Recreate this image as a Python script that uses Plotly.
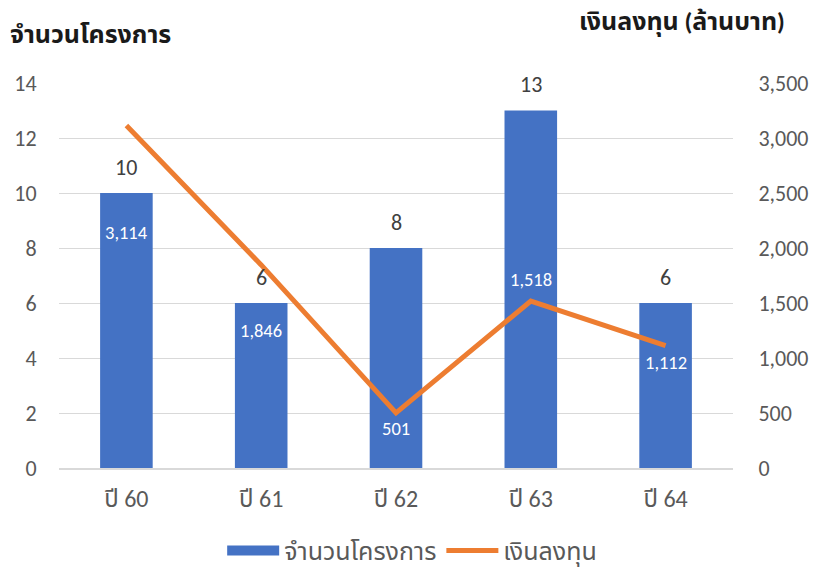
import plotly.graph_objects as go

categories = ["ปี 60", "ปี 61", "ปี 62", "ปี 63", "ปี 64"]
projects = [10, 6, 8, 13, 6]
investment = [3114, 1846, 501, 1518, 1112]
label_shift = [-107, -66, -16, 22, -17]

FONT = "Calibri, Carlito, 'Noto Sans Thai', 'Noto Sans', 'Liberation Sans', sans-serif"
BLUE = "#4472C4"
ORANGE = "#ED7D31"

fig = go.Figure()
fig.add_trace(go.Bar(
    x=categories, y=projects, name="จำนวนโครงการ",
    marker=dict(color=BLUE, line=dict(width=0)),
    showlegend=False, yaxis="y",
))
# legend entry for the bar series (wide rectangle like the original)
fig.add_trace(go.Scatter(
    x=[None], y=[None], name="จำนวนโครงการ", mode="lines",
    line=dict(color=BLUE, width=12), yaxis="y", hoverinfo="skip",
))
fig.add_trace(go.Scatter(
    x=categories, y=investment, name="เงินลงทุน", mode="lines",
    line=dict(color=ORANGE, width=5), yaxis="y2",
))
for c, v in zip(categories, projects):
    fig.add_annotation(x=c, y=v, yref="y", text=str(v), showarrow=False, yshift=26,
                       font=dict(color="#404040", size=22, family=FONT))
for c, v, s in zip(categories, investment, label_shift):
    fig.add_annotation(x=c, y=v, yref="y2", text=f"{v:,}", showarrow=False,
                       yshift=s, font=dict(color="white", size=18.5, family=FONT))

fig.add_annotation(xref="paper", yref="paper", x=-0.075, y=1.127, xanchor="left", yanchor="middle",
                   text="<b>จำนวนโครงการ</b>", showarrow=False,
                   font=dict(size=25, color="#1a1a1a", family=FONT))
fig.add_annotation(xref="paper", yref="paper", x=1.08, y=1.16, xanchor="right", yanchor="middle",
                   text="<b>เงินลงทุน (ล้านบาท)</b>", showarrow=False,
                   font=dict(size=25, color="#1a1a1a", family=FONT))

fig.update_layout(
    width=823, height=582,
    margin=dict(l=59, r=90, t=83, b=114, autoexpand=False),
    plot_bgcolor="white", paper_bgcolor="white",
    font=dict(family=FONT, color="#595959", size=22),
    bargap=0.61,
    showlegend=True,
    legend=dict(orientation="h", x=0.524, xanchor="center", y=-0.215, yanchor="middle",
                font=dict(size=25, color="#595959"), itemwidth=52),
    xaxis=dict(showline=True, linecolor="#D9D9D9", linewidth=1.5, ticks="outside", ticklen=8,
               tickcolor="rgba(0,0,0,0)", automargin=False,
               tickfont=dict(size=24, color="#595959")),
    yaxis=dict(range=[0, 14], dtick=2, showgrid=True, gridcolor="#D9D9D9", gridwidth=1.2,
               zeroline=False, ticks="outside", ticklen=17, tickcolor="rgba(0,0,0,0)",
               automargin=False, tickfont=dict(size=22, color="#595959")),
    yaxis2=dict(range=[0, 3500], dtick=500, overlaying="y", side="right", showgrid=False,
                zeroline=False, tickformat=",", ticks="outside", ticklen=20,
                tickcolor="rgba(0,0,0,0)", automargin=False,
                tickfont=dict(size=22, color="#595959")),
)
fig.write_html("out.html", config={"displayModeBar": False},
               post_script="document.body.style.margin='0';")
